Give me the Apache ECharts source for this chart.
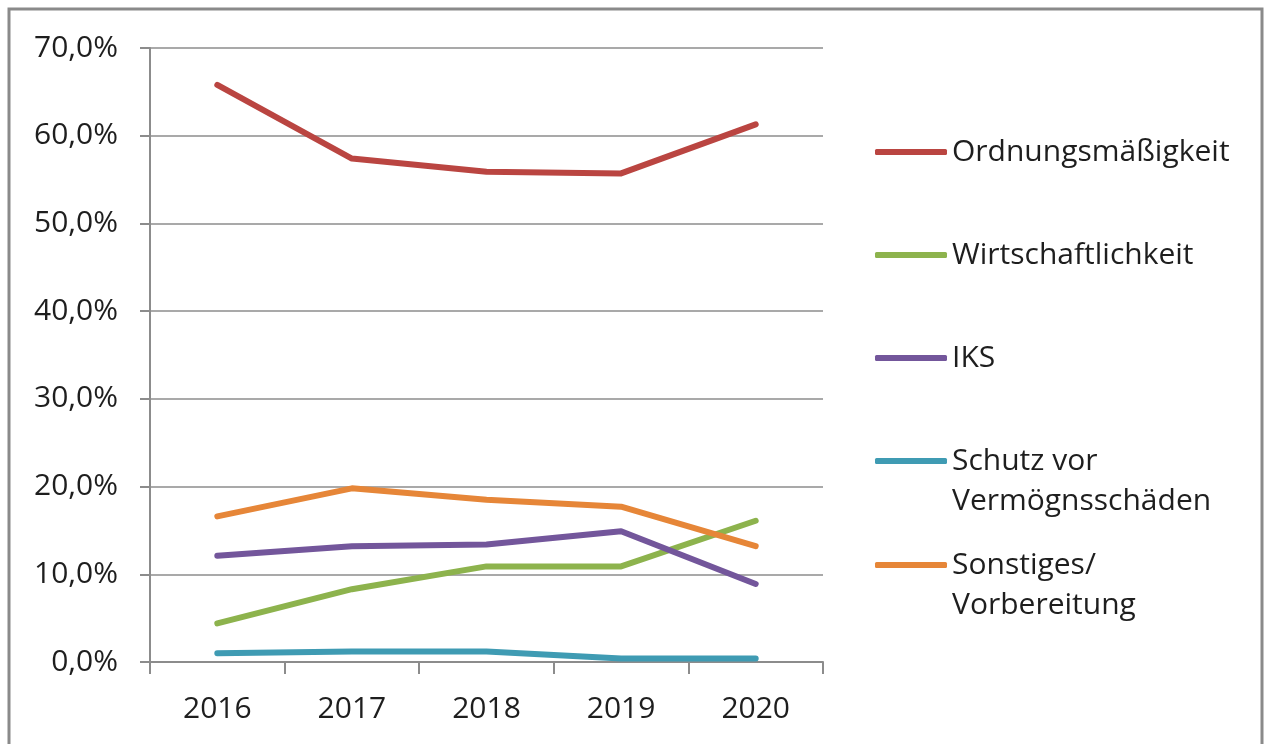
<!DOCTYPE html>
<html>
<head>
<meta charset="utf-8">
<script src="https://cdn.jsdelivr.net/npm/echarts@6/dist/echarts.min.js"></script>
<style>
  html, body { margin: 0; padding: 0; background: #fff; }
  #chart { width: 1268px; height: 744px; }
</style>
</head>
<body>
<div id="chart"></div>
<script>
    var years = ['2016', '2017', '2018', '2019', '2020'];
    var seriesNames = ['Ordnungsmäßigkeit', 'Wirtschaftlichkeit', 'IKS', 'Schutz vor Vermögnsschäden', 'Sonstiges/ Vorbereitung'];
    var ordnung = [65.8, 57.4, 55.9, 55.7, 61.3];
    var wirtschaft = [4.4, 8.3, 10.9, 10.9, 16.1];
    var iks = [12.1, 13.2, 13.4, 14.9, 8.9];
    var schutz = [1.0, 1.2, 1.2, 0.4, 0.4];
    var sonstiges = [16.6, 19.8, 18.5, 17.7, 13.2];
    var yTicks = [0, 10, 20, 30, 40, 50, 60, 70];

    var colors = ['#BA4541', '#8DB34D', '#73569B', '#3F9BB3', '#E68638'];
    var values = [ordnung, wirtschaft, iks, schutz, sonstiges];

    // Legendentexte wie im Original umbrechen
    var legendText = {
        'Schutz vor Vermögnsschäden': '\nSchutz vor\nVermögnsschäden',
        'Sonstiges/ Vorbereitung': '\nSonstiges/\nVorbereitung'
    };
    var legendTops = [132, 235, 338, 401, 505];

    var chart = echarts.init(document.getElementById('chart'));

    var series = seriesNames.map(function (name, i) {
        return {
            name: name,
            type: 'line',
            data: values[i],
            symbol: 'none',
            smooth: false,
            color: colors[i],
            lineStyle: { width: 6, color: colors[i], cap: 'round', join: 'round' }
        };
    });

    var legends = seriesNames.map(function (name, i) {
        return {
            data: [name],
            left: 875,
            top: legendTops[i],
            padding: 0,
            icon: 'roundRect',
            itemWidth: 72,
            itemHeight: 6,
            selectedMode: false,
            formatter: function (n) { return legendText[n] || n; },
            textStyle: {
                fontFamily: 'Open Sans',
                fontSize: 30,
                lineHeight: 40,
                color: '#1e1e1e'
            }
        };
    });

    var option = {
        backgroundColor: '#fff',
        animation: false,
        grid: { left: 150, right: 445, top: 48, bottom: 82 },
        legend: legends,
        xAxis: {
            type: 'category',
            data: years,
            boundaryGap: true,
            axisLine: { lineStyle: { color: '#8c8c8c', width: 2 } },
            axisTick: { show: true, length: 12, lineStyle: { color: '#8c8c8c', width: 2 } },
            axisLabel: { fontFamily: 'Open Sans', fontSize: 30, color: '#1e1e1e', margin: 32 }
        },
        yAxis: {
            type: 'value',
            min: yTicks[0],
            max: yTicks[yTicks.length - 1],
            interval: 10,
            axisLine: { show: true, lineStyle: { color: '#8c8c8c', width: 2 } },
            axisTick: { show: true, length: 10, lineStyle: { color: '#8c8c8c', width: 2 } },
            splitLine: { lineStyle: { color: '#8c8c8c', width: 1.5 } },
            axisLabel: {
                fontFamily: 'Open Sans', fontSize: 30, color: '#1e1e1e', margin: 32,
                formatter: function (v) { return v.toFixed(1).replace('.', ',') + '%'; }
            }
        },
        graphic: [{
            type: 'rect',
            shape: { x: 9, y: 9, width: 1253, height: 760 },
            style: { fill: 'none', stroke: '#8a8a8a', lineWidth: 3 },
            silent: true
        }],
        series: series
    };
    chart.setOption(option);
</script>
</body>
</html>
